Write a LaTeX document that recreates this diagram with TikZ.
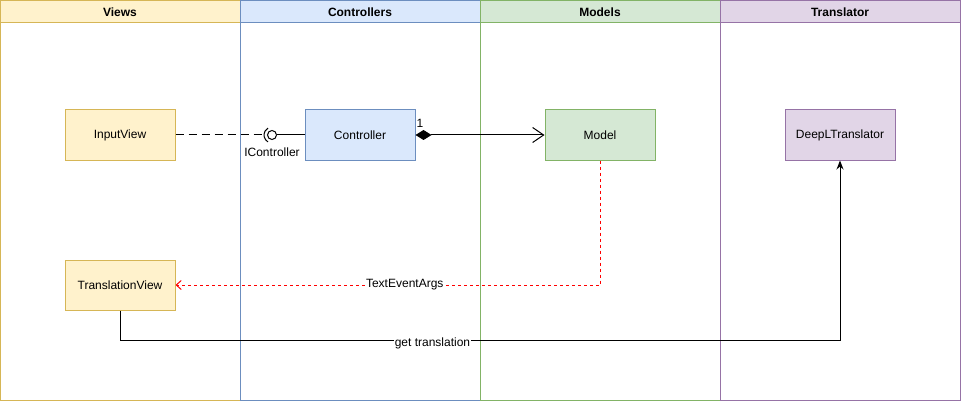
\documentclass[tikz,border=0pt]{standalone}
\usepackage{fontspec}
\setmainfont{Liberation Sans}
\usetikzlibrary{arrows.meta}
\definecolor{viewfill}{HTML}{FFF2CC}
\definecolor{viewline}{HTML}{D6B656}
\definecolor{ctrlfill}{HTML}{DAE8FC}
\definecolor{ctrlline}{HTML}{6C8EBF}
\definecolor{modelfill}{HTML}{D5E8D4}
\definecolor{modelline}{HTML}{82B366}
\definecolor{transfill}{HTML}{E1D5E7}
\definecolor{transline}{HTML}{9673A6}
\tikzset{
    every node/.style={font=\fontsize{12}{14}\selectfont},
    box/.style={rectangle, draw, line width=1pt, minimum width=110pt,
    	minimum height=50pt, inner sep=0pt}
}
\tikzset{
    header/.style={font=\fontsize{12}{14}\selectfont\bfseries}
}

\begin{document}
\begin{tikzpicture}[x=1pt, y=-1pt, line width=1pt]
  \useasboundingbox (0,0) rectangle (961,401);
  % swim lanes
  \draw [viewline, fill=viewfill] (0.5,0.5) rectangle (240,23);
  \draw [viewline] (0.5,23) rectangle (240,400.5);
  \draw [ctrlline, fill=ctrlfill] (240,0.5) rectangle (480,23);
  \draw [ctrlline] (240,23) rectangle (480,400.5);
  \draw [modelline, fill=modelfill] (480,0.5) rectangle (720,23);
  \draw [modelline] (480,23) rectangle (720,400.5);
  \draw [transline, fill=transfill] (720,0.5) rectangle (960.5,23);
  \draw [transline] (720,23) rectangle (960.5,400.5);
  \node (hview) [header] at (120,12) {Views};
  \node (hctrl) [header] at (360,12) {Controllers};
  \node (hmodel) [header] at (600,12) {Models};
  \node (htrans) [header] at (840,12) {Translator};

  \node (inview) [box, draw=viewline, fill=viewfill] at (120,135) {InputView};
  \node (transview) [box, draw=viewline, fill=viewfill] at (120,285) {TranslationView};
  \node (ctrl) [box, draw=ctrlline, fill=ctrlfill] at (360,135) {Controller};
  \node (model) [box, draw=modelline, fill=modelfill] at (600,135) {Model};
  \node (deepl) [box, draw=transline, fill=transfill] at (840,135) {DeepLTranslator};

  % interface lollipop
  \node (ictrl) [circle, draw, minimum size=9pt, inner sep=0pt,
    label={[label distance=4pt]below:IController}] at (272,135) {};
  \coordinate (sock) at (264,135);
  \draw (ictrl.center) ++(120:8) arc (120:240:8);
  \draw [dash pattern=on 8pt off 5pt] (inview) -- (sock);
  \draw (ictrl) -- (ctrl);

  \draw (ctrl) edge [{Diamond[length=16pt,width=10pt]}-{Straight Barb[length=11pt,width=15pt]}] (model);
  \node (one) at (420,123) {1};

  \draw [red, dash pattern=on 3pt off 3pt, -{Straight Barb[length=5pt,width=9pt]}]
    (model.south) |- (transview.east) node [pos=0.73, fill=white, inner sep=1pt, text=black] {TextEventArgs};
  \coordinate (turn) at (840,340);
  \draw [-{Stealth[length=9pt,width=7pt]}] (transview.south) |- (turn)
    node [pos=0.717, fill=white, inner sep=1pt, yshift=-3pt] {get translation} -- (deepl.south);
\end{tikzpicture}
\end{document}
